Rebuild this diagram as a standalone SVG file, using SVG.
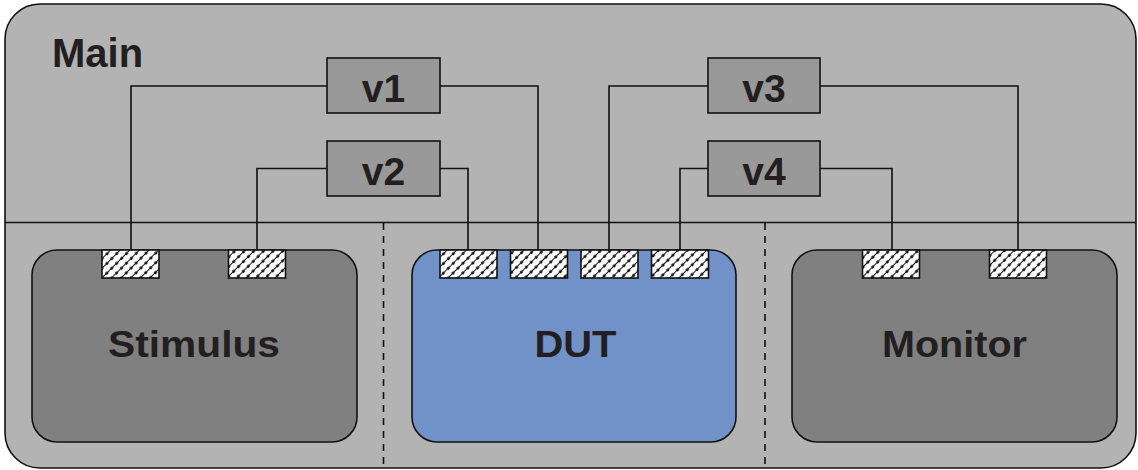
<svg xmlns="http://www.w3.org/2000/svg" width="1138" height="470" viewBox="0 0 1138 470">
<defs>
<pattern id="hatch" width="7" height="6.8" patternUnits="userSpaceOnUse" patternTransform="rotate(-45)">
<rect width="7" height="6.8" fill="#ffffff"/>
<rect x="0" y="2.9" width="7" height="1" fill="#111"/>
<rect x="0" y="2.2" width="2.6" height="2.6" fill="#111"/>
</pattern>
<style>
.lbl{font-family:"Liberation Sans",Arial,sans-serif;font-weight:bold;fill:#231f20}
.wire{fill:none;stroke:#111;stroke-width:1.6}
.port{fill:url(#hatch);stroke:#111;stroke-width:1.6}
.blk{stroke:#111;stroke-width:1.6}
.var{fill:#999999;stroke:#111;stroke-width:1.6}
</style>
</defs>
<g id="main">
<rect x="5" y="4" width="1131" height="464" rx="35" ry="35" fill="#b3b3b3" stroke="#111" stroke-width="1.6"/>
<line x1="5" y1="222.5" x2="1136" y2="222.5" stroke="#111" stroke-width="1.6"/>
<line x1="383.5" y1="223" x2="383.5" y2="468" stroke="#111" stroke-width="1.6" stroke-dasharray="7,6"/>
<line x1="765" y1="223" x2="765" y2="468" stroke="#111" stroke-width="1.6" stroke-dasharray="7,6"/>
<text class="lbl" x="52" y="67" font-size="40">Main</text>
</g>
<g id="connectors">
<path class="wire" d="M131,250 V86 H327"/>
<path class="wire" d="M440,86 H538 V250"/>
<path class="wire" d="M257,250 V168.5 H327"/>
<path class="wire" d="M440,168.5 H468 V250"/>
<path class="wire" d="M609,250 V86 H708"/>
<path class="wire" d="M820,86 H1018 V250"/>
<path class="wire" d="M680,250 V168.5 H708"/>
<path class="wire" d="M820,168.5 H892 V250"/>
</g>
<g id="stimulus">
<rect class="blk" x="32" y="250" width="325" height="192" rx="25" ry="25" fill="#808080"/>
<text class="lbl" x="194" y="357" font-size="36" text-anchor="middle" textLength="172" lengthAdjust="spacingAndGlyphs">Stimulus</text>
<rect class="port" x="102" y="250" width="57" height="28"/>
<rect class="port" x="228.5" y="250" width="57" height="28"/>
</g>
<g id="dut">
<rect class="blk" x="412" y="250" width="324" height="192" rx="25" ry="25" fill="#7092c9"/>
<text class="lbl" x="575.5" y="357" font-size="36" text-anchor="middle" textLength="82" lengthAdjust="spacingAndGlyphs">DUT</text>
<rect class="port" x="440" y="250" width="57" height="28"/>
<rect class="port" x="510.5" y="250" width="57" height="28"/>
<rect class="port" x="581" y="250" width="57" height="28"/>
<rect class="port" x="651.5" y="250" width="57" height="28"/>
</g>
<g id="monitor">
<rect class="blk" x="792" y="250" width="325" height="192" rx="25" ry="25" fill="#808080"/>
<text class="lbl" x="954.5" y="357" font-size="36" text-anchor="middle" textLength="145" lengthAdjust="spacingAndGlyphs">Monitor</text>
<rect class="port" x="862.5" y="250" width="57" height="28"/>
<rect class="port" x="989.5" y="250" width="57" height="28"/>
</g>
<g id="v1">
<rect class="var" x="327" y="58" width="113" height="55"/>
<text class="lbl" x="383.5" y="102" font-size="39" text-anchor="middle">v1</text>
</g>
<g id="v2">
<rect class="var" x="327" y="141" width="113" height="55"/>
<text class="lbl" x="383.5" y="185" font-size="39" text-anchor="middle">v2</text>
</g>
<g id="v3">
<rect class="var" x="708" y="58" width="112" height="55"/>
<text class="lbl" x="764" y="102" font-size="39" text-anchor="middle">v3</text>
</g>
<g id="v4">
<rect class="var" x="708" y="141" width="112" height="55"/>
<text class="lbl" x="764" y="185" font-size="39" text-anchor="middle">v4</text>
</g>
</svg>
